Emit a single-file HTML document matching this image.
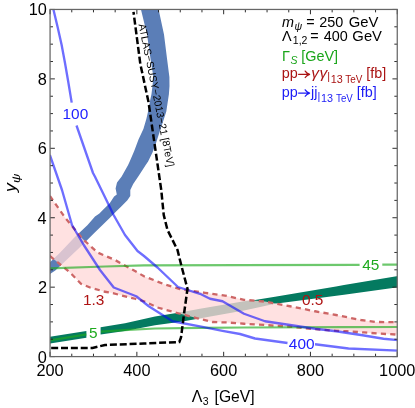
<!DOCTYPE html>
<html><head><meta charset="utf-8"><title>plot</title>
<style>html,body{margin:0;padding:0;background:#fff;}body{width:415px;height:408px;position:relative;overflow:hidden;font-family:"Liberation Sans",sans-serif;}</style></head>
<body>
<svg width="415" height="408" viewBox="0 0 415 408" style="position:absolute;left:0;top:0;will-change:transform">
<defs><clipPath id="c"><rect x="50.07" y="9.45" width="347.18" height="347.15000000000003"/></clipPath></defs>
<g clip-path="url(#c)">
<polygon points="140.60,8.00 147.00,34.40 150.70,60.00 153.40,77.00 152.60,85.00 151.50,94.00 150.20,100.00 148.40,110.00 146.40,118.80 143.40,129.10 138.50,139.40 134.10,151.20 129.70,161.50 128.10,165.00 121.50,176.80 117.00,182.60 115.60,188.50 116.80,194.40 114.10,196.60 109.70,203.20 103.80,209.10 99.40,213.50 95.00,216.50 87.60,225.00 74.40,237.50 59.70,253.00 49.85,262.50 49.85,274.00 55.30,270.60 67.00,259.50 81.80,245.60 93.50,233.80 103.80,223.80 109.70,217.90 115.60,212.10 121.50,206.20 127.40,200.30 130.30,195.90 130.30,190.00 133.20,184.10 139.10,175.30 145.70,165.00 148.10,161.50 152.50,152.60 156.20,142.40 159.10,133.50 162.00,124.70 166.30,111.50 168.90,94.30 169.50,86.00 169.40,77.00 167.20,60.00 164.00,34.40 158.30,8.00" fill="#5b7eb7"/>
<polygon points="100.60,327.20 125.00,323.30 155.00,316.50 182.50,312.00 200.00,308.80 244.00,301.25 255.00,300.00 275.00,296.70 336.00,286.40 344.00,285.00 399.00,275.90 399.00,287.20 344.00,294.80 275.00,303.75 244.00,310.40 182.50,321.40 155.00,325.20 125.00,331.00 100.60,334.60" fill="#047a60"/>
<polygon points="49.85,336.80 86.40,331.00 86.40,337.80 49.85,343.50" fill="#047a60"/>
<polygon points="49.85,196.00 65.00,217.50 82.50,238.75 97.50,252.50 115.00,260.00 135.00,271.00 144.00,276.30 165.00,284.50 180.00,289.10 205.00,292.80 225.00,295.60 244.00,299.80 265.00,301.60 290.00,306.25 315.00,311.25 336.00,315.00 361.00,320.00 376.00,322.00 399.00,322.10 399.00,334.70 380.60,333.70 363.70,332.40 346.90,331.20 330.00,330.40 315.00,329.20 290.00,326.75 265.00,325.00 244.00,323.75 227.50,322.50 212.50,322.00 197.50,318.30 180.00,313.75 157.50,307.50 144.00,301.25 135.00,298.75 110.00,292.50 105.00,291.75 90.00,287.50 81.00,283.75 70.00,272.50 49.85,256.00" fill="rgb(255,216,216)" fill-opacity="0.77"/>
<path d="M49.85 196.00 L65.00 217.50 L82.50 238.75 L97.50 252.50 L115.00 260.00 L135.00 271.00 L144.00 276.30 L165.00 284.50 L180.00 289.10 L205.00 292.80 L225.00 295.60 L244.00 299.80 L265.00 301.60 L290.00 306.25 L315.00 311.25 L336.00 315.00 L361.00 320.00 L376.00 322.00 L399.00 322.10" fill="none" stroke="#cd6666" stroke-width="2.3" stroke-dasharray="5.2 4.2"/>
<path d="M49.85 256.00 L70.00 272.50 L81.00 283.75 L90.00 287.50 L105.00 291.75 L110.00 292.50 L135.00 298.75 L144.00 301.25 L157.50 307.50 L180.00 313.75 L197.50 318.30 L212.50 322.00 L227.50 322.50 L244.00 323.75 L265.00 325.00 L290.00 326.75 L315.00 329.20 L330.00 330.40 L346.90 331.20 L363.70 332.40 L380.60 333.70 L399.00 334.70" fill="none" stroke="#cd6666" stroke-width="2.3" stroke-dasharray="5.2 4.2"/>
<path d="M49.85 340.30 L86.40 334.30" fill="none" stroke="#1eaa1e" stroke-opacity="0.65" stroke-width="2.2"/>
<path d="M101.00 331.70 L124.00 330.20 L155.00 328.50 L200.00 327.80 L244.00 327.50 L344.00 327.20 L399.00 327.00" fill="none" stroke="#1eaa1e" stroke-opacity="0.65" stroke-width="2.2"/>
<path d="M49.00 268.40 L105.00 266.50 L144.00 265.30 L240.00 265.10 L359.60 264.80" fill="none" stroke="#1eaa1e" stroke-opacity="0.65" stroke-width="2.2"/>
<path d="M382.30 264.70 L399.00 264.60" fill="none" stroke="#1eaa1e" stroke-opacity="0.65" stroke-width="2.2"/>
<path d="M53.30 9.00 L57.60 27.00 L61.60 44.80 L65.00 63.00 L68.20 81.50 L71.70 102.60" fill="none" stroke="#0000ff" stroke-opacity="0.57" stroke-width="2.35" stroke-linejoin="round"/>
<path d="M76.50 125.50 L93.00 173.00 L95.00 176.80 L108.30 204.00 L113.60 215.00 L125.00 235.00 L137.50 251.00 L144.00 256.00 L157.50 267.50 L178.00 287.00 L200.00 293.80 L210.00 298.75 L222.50 301.25 L244.00 313.75 L265.00 321.25 L290.00 325.00 L315.00 328.75 L336.00 331.25 L361.00 335.00 L383.50 338.75 L399.00 340.20" fill="none" stroke="#0000ff" stroke-opacity="0.57" stroke-width="2.35" stroke-linejoin="round"/>
<path d="M49.85 155.00 L62.00 190.00 L72.00 225.00 L83.75 245.00 L100.00 270.00 L113.75 287.50 L136.25 296.25 L148.75 306.25 L172.50 321.25 L202.50 326.90 L222.50 330.90 L240.00 334.00 L255.00 338.50 L287.50 343.00" fill="none" stroke="#0000ff" stroke-opacity="0.57" stroke-width="2.35" stroke-linejoin="round"/>
<path d="M315.00 344.25 L348.50 348.50 L399.00 350.60" fill="none" stroke="#0000ff" stroke-opacity="0.57" stroke-width="2.35" stroke-linejoin="round"/>
<path d="M133.50 11.90 L140.30 63.80 L148.50 102.00 L161.25 190.00 L163.75 215.00 L167.50 230.00 L177.50 250.00 L180.60 262.50 L182.50 270.00 L187.50 288.75 L184.20 312.50 L181.00 337.50 L179.30 342.00 L144.00 343.50 L105.00 345.00 L92.50 348.00 L49.85 348.00" fill="none" stroke="#000" stroke-width="2.5" stroke-dasharray="7 2.85" stroke-dashoffset="4.1"/>
</g>
<path d="M50.07 356.6 v-4.8 M50.07 9.45 v4.8 M71.77 356.6 v-2.9 M71.77 9.45 v2.9 M93.47 356.6 v-2.9 M93.47 9.45 v2.9 M115.17 356.6 v-2.9 M115.17 9.45 v2.9 M136.87 356.6 v-4.8 M136.87 9.45 v4.8 M158.56 356.6 v-2.9 M158.56 9.45 v2.9 M180.26 356.6 v-2.9 M180.26 9.45 v2.9 M201.96 356.6 v-2.9 M201.96 9.45 v2.9 M223.66 356.6 v-4.8 M223.66 9.45 v4.8 M245.36 356.6 v-2.9 M245.36 9.45 v2.9 M267.06 356.6 v-2.9 M267.06 9.45 v2.9 M288.76 356.6 v-2.9 M288.76 9.45 v2.9 M310.45 356.6 v-4.8 M310.45 9.45 v4.8 M332.15 356.6 v-2.9 M332.15 9.45 v2.9 M353.85 356.6 v-2.9 M353.85 9.45 v2.9 M375.55 356.6 v-2.9 M375.55 9.45 v2.9 M397.25 356.6 v-4.8 M397.25 9.45 v4.8 M50.07 356.60 h4.8 M397.25 356.60 h-4.8 M50.07 339.24 h2.9 M397.25 339.24 h-2.9 M50.07 321.88 h2.9 M397.25 321.88 h-2.9 M50.07 304.53 h2.9 M397.25 304.53 h-2.9 M50.07 287.17 h4.8 M397.25 287.17 h-4.8 M50.07 269.81 h2.9 M397.25 269.81 h-2.9 M50.07 252.46 h2.9 M397.25 252.46 h-2.9 M50.07 235.10 h2.9 M397.25 235.10 h-2.9 M50.07 217.74 h4.8 M397.25 217.74 h-4.8 M50.07 200.38 h2.9 M397.25 200.38 h-2.9 M50.07 183.03 h2.9 M397.25 183.03 h-2.9 M50.07 165.67 h2.9 M397.25 165.67 h-2.9 M50.07 148.31 h4.8 M397.25 148.31 h-4.8 M50.07 130.95 h2.9 M397.25 130.95 h-2.9 M50.07 113.60 h2.9 M397.25 113.60 h-2.9 M50.07 96.24 h2.9 M397.25 96.24 h-2.9 M50.07 78.88 h4.8 M397.25 78.88 h-4.8 M50.07 61.52 h2.9 M397.25 61.52 h-2.9 M50.07 44.16 h2.9 M397.25 44.16 h-2.9 M50.07 26.81 h2.9 M397.25 26.81 h-2.9 M50.07 9.45 h4.8 M397.25 9.45 h-4.8" stroke="#222" stroke-width="0.95" fill="none"/>
<rect x="50.07" y="9.45" width="347.18" height="347.15000000000003" fill="none" stroke="#666" stroke-width="1.25"/>
<text transform="translate(50.07,375.90) scale(1.02,1)" font-size="16.0" fill="#000" text-anchor="middle" font-family="Liberation Sans, sans-serif" >200</text>
<text transform="translate(136.87,375.90) scale(1.02,1)" font-size="16.0" fill="#000" text-anchor="middle" font-family="Liberation Sans, sans-serif" >400</text>
<text transform="translate(223.66,375.90) scale(1.02,1)" font-size="16.0" fill="#000" text-anchor="middle" font-family="Liberation Sans, sans-serif" >600</text>
<text transform="translate(310.45,375.90) scale(1.02,1)" font-size="16.0" fill="#000" text-anchor="middle" font-family="Liberation Sans, sans-serif" >800</text>
<text transform="translate(397.25,375.90) scale(1.02,1)" font-size="16.0" fill="#000" text-anchor="middle" font-family="Liberation Sans, sans-serif" >1000</text>
<text transform="translate(46.84,362.50) scale(1.02,1)" font-size="16.0" fill="#000" text-anchor="end" font-family="Liberation Sans, sans-serif" >0</text>
<text transform="translate(47.02,293.07) scale(1.02,1)" font-size="16.0" fill="#000" text-anchor="end" font-family="Liberation Sans, sans-serif" >2</text>
<text transform="translate(46.68,223.64) scale(1.02,1)" font-size="16.0" fill="#000" text-anchor="end" font-family="Liberation Sans, sans-serif" >4</text>
<text transform="translate(46.92,154.21) scale(1.02,1)" font-size="16.0" fill="#000" text-anchor="end" font-family="Liberation Sans, sans-serif" >6</text>
<text transform="translate(46.91,84.78) scale(1.02,1)" font-size="16.0" fill="#000" text-anchor="end" font-family="Liberation Sans, sans-serif" >8</text>
<text transform="translate(46.84,15.35) scale(1.02,1)" font-size="16.0" fill="#000" text-anchor="end" font-family="Liberation Sans, sans-serif" >10</text>
<text transform="translate(191.82,401.60)" font-size="16" fill="#000" text-anchor="start" font-family="Liberation Sans, sans-serif" >Λ</text>
<text transform="translate(202.70,404.80)" font-size="10.5" fill="#000" text-anchor="start" font-family="Liberation Sans, sans-serif" >3</text>
<text transform="translate(214.58,401.60) scale(0.98,1)" font-size="16" fill="#000" text-anchor="start" font-family="Liberation Sans, sans-serif" >[GeV]</text>
<text transform="translate(16.20,191.90) rotate(-90) scale(1.12,1)" font-size="16.0" fill="#000" text-anchor="start" font-family="Liberation Sans, sans-serif" font-style="italic">y<tspan font-size="11.5" dy="3.6">ψ</tspan></text>
<text transform="translate(62.53,119.10)" font-size="15.4" fill="#2222ff" text-anchor="start" font-family="Liberation Sans, sans-serif" >100</text>
<text transform="translate(288.85,348.60)" font-size="15.4" fill="#2222ff" text-anchor="start" font-family="Liberation Sans, sans-serif" >400</text>
<text transform="translate(83.03,304.60)" font-size="15.4" fill="#ae1212" text-anchor="start" font-family="Liberation Sans, sans-serif" >1.3</text>
<text transform="translate(301.90,304.60)" font-size="15.4" fill="#ae1212" text-anchor="start" font-family="Liberation Sans, sans-serif" >0.5</text>
<text transform="translate(88.88,338.10)" font-size="15.4" fill="#1eaa1e" text-anchor="start" font-family="Liberation Sans, sans-serif" >5</text>
<text transform="translate(362.30,269.70)" font-size="15.4" fill="#1eaa1e" text-anchor="start" font-family="Liberation Sans, sans-serif" >45</text>
<text transform="translate(138.60,24.50) rotate(78.6)" font-size="10.4" fill="#000" text-anchor="start" font-family="Liberation Sans, sans-serif" >ATLAS−SUSY−2013−21 [8TeV]</text>
<text transform="translate(282.06,26.70)" font-size="14.4" fill="#000" text-anchor="start" font-family="Liberation Sans, sans-serif" font-style="italic">m</text>
<text transform="translate(294.40,29.90)" font-size="10.5" fill="#000" text-anchor="start" font-family="Liberation Sans, sans-serif" font-style="italic">ψ</text>
<text transform="translate(306.20,26.70)" font-size="14.4" fill="#000" text-anchor="start" font-family="Liberation Sans, sans-serif" >=</text>
<text transform="translate(319.18,26.70)" font-size="14.4" fill="#000" text-anchor="start" font-family="Liberation Sans, sans-serif" >250</text>
<text transform="translate(348.75,26.70) scale(1.03,1)" font-size="14.4" fill="#000" text-anchor="start" font-family="Liberation Sans, sans-serif" >GeV</text>
<text transform="translate(281.93,40.60)" font-size="14.4" fill="#000" text-anchor="start" font-family="Liberation Sans, sans-serif" >Λ</text>
<text transform="translate(292.80,43.80)" font-size="10.5" fill="#000" text-anchor="start" font-family="Liberation Sans, sans-serif" >1,2</text>
<text transform="translate(310.20,40.60)" font-size="14.4" fill="#000" text-anchor="start" font-family="Liberation Sans, sans-serif" >=</text>
<text transform="translate(323.67,40.60)" font-size="14.4" fill="#000" text-anchor="start" font-family="Liberation Sans, sans-serif" >400</text>
<text transform="translate(352.35,40.60) scale(1.03,1)" font-size="14.4" fill="#000" text-anchor="start" font-family="Liberation Sans, sans-serif" >GeV</text>
<text transform="translate(281.92,60.50)" font-size="14.4" fill="#1aa51a" text-anchor="start" font-family="Liberation Sans, sans-serif" >Γ</text>
<text transform="translate(290.60,63.70)" font-size="10.5" fill="#1aa51a" text-anchor="start" font-family="Liberation Sans, sans-serif" font-style="italic">S</text>
<text transform="translate(301.27,60.50)" font-size="14.4" fill="#1aa51a" text-anchor="start" font-family="Liberation Sans, sans-serif" >[GeV]</text>
<text transform="translate(281.77,78.20)" font-size="14.4" fill="#aa1414" text-anchor="start" font-family="Liberation Sans, sans-serif" >pp</text>
<path d="M298.6 74.3 H309.20000000000005 M305.20000000000005 71.1 Q306.5 73.3 309.6 74.3 Q306.5 75.3 305.20000000000005 77.5" fill="none" stroke="#aa1414" stroke-width="1.25" stroke-linecap="round" stroke-linejoin="round"/>
<text transform="translate(311.16,78.20) scale(1.08,1)" font-size="14.4" fill="#aa1414" text-anchor="start" font-family="Liberation Sans, sans-serif" font-style="italic">γ</text>
<text transform="translate(319.46,78.20) scale(1.08,1)" font-size="14.4" fill="#aa1414" text-anchor="start" font-family="Liberation Sans, sans-serif" font-style="italic">γ</text>
<text transform="translate(327.33,80.40)" font-size="10.8" fill="#aa1414" text-anchor="start" font-family="Liberation Sans, sans-serif" >|</text>
<text transform="translate(330.68,82.50)" font-size="10.8" fill="#aa1414" text-anchor="start" font-family="Liberation Sans, sans-serif" >13</text>
<text transform="translate(345.18,82.50) scale(0.92,1)" font-size="10.8" fill="#aa1414" text-anchor="start" font-family="Liberation Sans, sans-serif" >TeV</text>
<text transform="translate(366.27,78.40)" font-size="14.4" fill="#aa1414" text-anchor="start" font-family="Liberation Sans, sans-serif" >[fb]</text>
<text transform="translate(281.77,97.00)" font-size="14.4" fill="#1c1cf5" text-anchor="start" font-family="Liberation Sans, sans-serif" >pp</text>
<path d="M298.6 93.1 H309.20000000000005 M305.20000000000005 89.89999999999999 Q306.5 92.1 309.6 93.1 Q306.5 94.1 305.20000000000005 96.3" fill="none" stroke="#1c1cf5" stroke-width="1.25" stroke-linecap="round" stroke-linejoin="round"/>
<text transform="translate(310.95,97.00)" font-size="14.4" fill="#1c1cf5" text-anchor="start" font-family="Liberation Sans, sans-serif" >jj</text>
<text transform="translate(317.58,99.80)" font-size="10.8" fill="#1c1cf5" text-anchor="start" font-family="Liberation Sans, sans-serif" >|</text>
<text transform="translate(320.98,101.60)" font-size="10.8" fill="#1c1cf5" text-anchor="start" font-family="Liberation Sans, sans-serif" >13</text>
<text transform="translate(336.08,101.60) scale(0.9,1)" font-size="10.8" fill="#1c1cf5" text-anchor="start" font-family="Liberation Sans, sans-serif" >TeV</text>
<text transform="translate(356.87,97.30)" font-size="14.4" fill="#1c1cf5" text-anchor="start" font-family="Liberation Sans, sans-serif" >[fb]</text>
</svg>
</body></html>
